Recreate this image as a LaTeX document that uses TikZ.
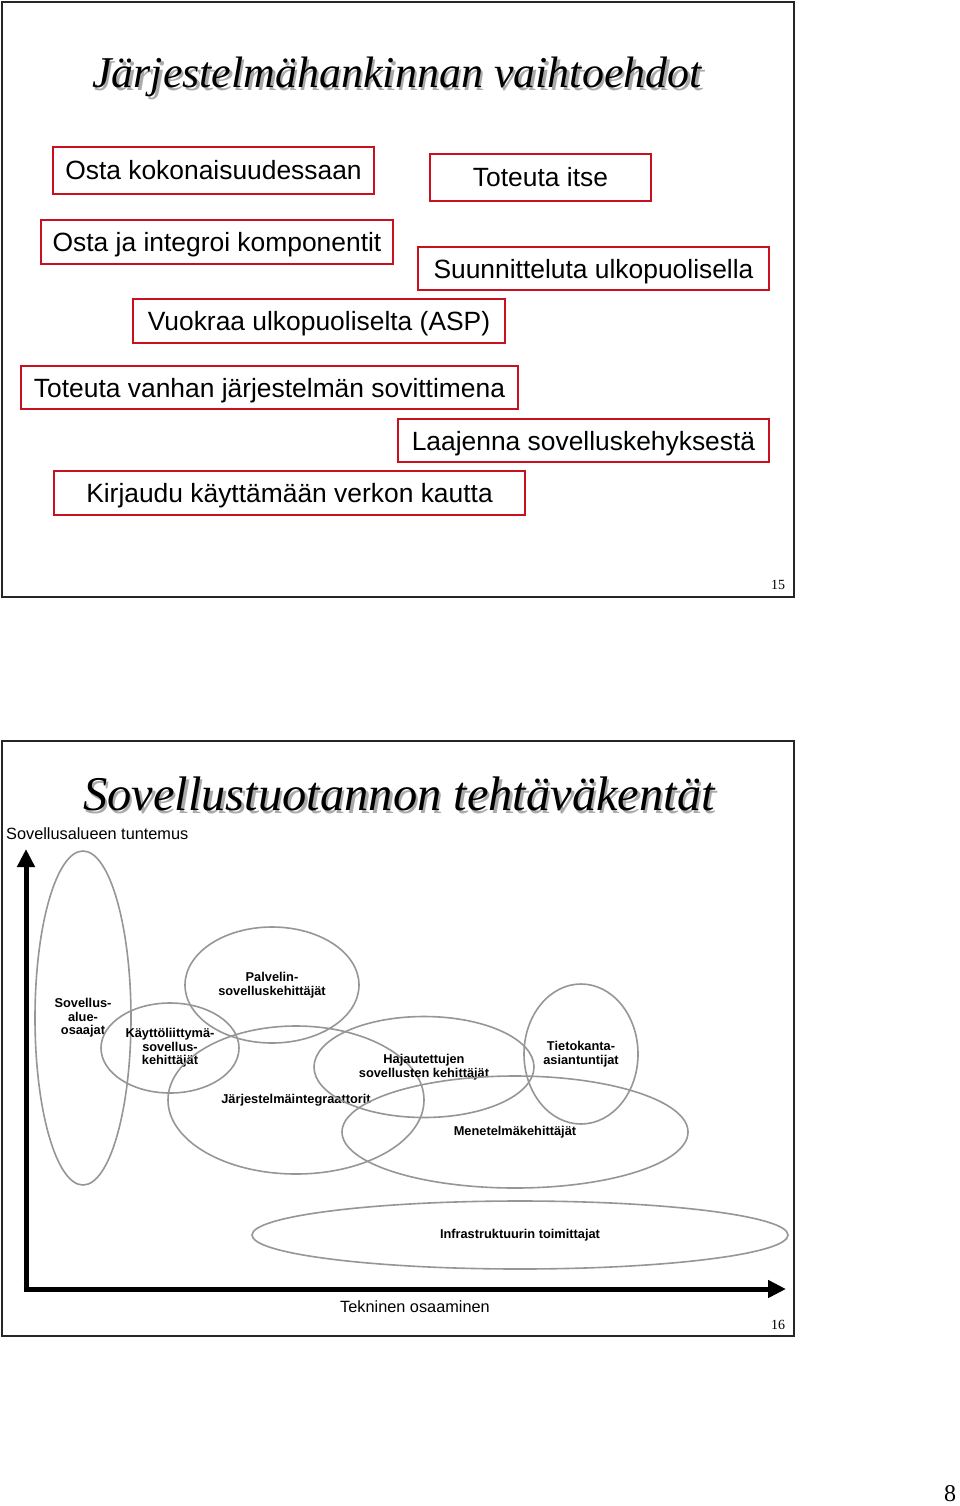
\documentclass[tikz,border=0pt]{standalone}
\usepackage{fontspec}
\setmainfont{Liberation Serif}
\setsansfont{Liberation Sans}
\usetikzlibrary{arrows.meta,shapes.geometric}
\definecolor{boxred}{RGB}{200,16,30}
\definecolor{ellgray}{RGB}{150,150,150}
\definecolor{shadowgray}{RGB}{170,170,170}
\tikzset{
  frame/.style={draw=black!85,line width=1.8pt},
  titletext/.style={font=\fontsize{44}{48}\selectfont\itshape},
  titleshadow/.style={titletext,text=shadowgray},
  optbox/.style={draw=boxred,line width=2.4pt,inner sep=0pt,text height=19pt,text depth=0pt,
    font=\sffamily\fontsize{26.4}{28}\selectfont},
  ell/.style={draw=ellgray,line width=1.6pt,ellipse,inner sep=0pt,align=center,
    font=\sffamily\bfseries\fontsize{12.8}{13.6}\selectfont},
  pagenum/.style={font=\fontsize{14}{16}\selectfont},
  axislbl/.style={font=\sffamily\fontsize{16.3}{18}\selectfont},
  axis/.style={line width=5pt,-{Triangle[length=18pt,width=17pt]}}
}
\begin{document}
\begin{tikzpicture}[x=1pt,y=-1pt]
\useasboundingbox[fill=white] (0,0) rectangle (960,1506);
% ---------- slide 15 ----------
\draw[frame] (2,2) rectangle (794,597);
\node[titleshadow] (t1s) at (399.5,79.5) {Järjestelmähankinnan vaihtoehdot};
\node[titletext] (t1) at (397,77) {Järjestelmähankinnan vaihtoehdot};
\node[optbox,minimum width=321pt,minimum height=47pt] (b1) at (213.5,170.5) {Osta kokonaisuudessaan};
\node[optbox,minimum width=221pt,minimum height=47pt] (b2) at (540.5,177.5) {Toteuta itse};
\node[optbox,minimum width=352pt,minimum height=44pt] (b3) at (217,242) {Osta ja integroi komponentit};
\node[optbox,minimum width=351pt,minimum height=43pt] (b4) at (593.5,268.5) {Suunnitteluta ulkopuolisella};
\node[optbox,minimum width=372pt,minimum height=44pt] (b5) at (319,321) {Vuokraa ulkopuoliselta (ASP)};
\node[optbox,minimum width=497pt,minimum height=43pt] (b6) at (269.5,387.5) {Toteuta vanhan järjestelmän sovittimena};
\node[optbox,minimum width=371pt,minimum height=43pt] (b7) at (583.5,440.5) {Laajenna sovelluskehyksestä};
\node[optbox,minimum width=471pt,minimum height=44pt] (b8) at (289.5,493) {Kirjaudu käyttämään verkon kautta};
\node[pagenum] (p15) at (778,585) {15};
% ---------- slide 16 ----------
\draw[frame] (2,741) rectangle (794,1336);
\node[titleshadow,font=\fontsize{48.5}{52}\selectfont\itshape] (t2s) at (401.5,796.5) {Sovellustuotannon tehtäväkentät};
\node[titletext,font=\fontsize{48.5}{52}\selectfont\itshape] (t2) at (399,794) {Sovellustuotannon tehtäväkentät};
\node[axislbl,anchor=west,inner sep=0pt] (ylab) at (6,834) {Sovellusalueen tuntemus};
\coordinate (o) at (26,1289);
\coordinate (ytop) at (26,849);
\coordinate (xend) at (786,1289);
\draw[axis] (o) -- (ytop);
\draw[axis] ([xshift=-2.5pt]o) -- (xend);
\node[axislbl] (xlab) at (415,1307) {Tekninen osaaminen};
\node[pagenum] (p16) at (778,1325) {16};
% ellipses
\node[ell,minimum width=96pt,minimum height=334pt] (e1) at (83,1018) {Sovellus-\\alue-\\osaajat};
\node[ell,minimum width=174pt,minimum height=116pt] (e2) at (272,985) {Palvelin-\\sovelluskehittäjät};
\node[ell,minimum width=138pt,minimum height=90pt] (e3) at (170,1048) {Käyttöliittymä-\\sovellus-\\kehittäjät};
\node[ell,minimum width=256pt,minimum height=148pt] (e4) at (296,1100) {Järjestelmäintegraattorit};
\node[ell,minimum width=220pt,minimum height=101pt] (e5) at (424,1067) {Hajautettujen\\sovellusten kehittäjät};
\node[ell,minimum width=114pt,minimum height=140pt] (e6) at (581,1054) {Tietokanta-\\asiantuntijat};
\node[ell,minimum width=346pt,minimum height=112pt] (e7) at (515,1132) {Menetelmäkehittäjät};
\node[ell,minimum width=536pt,minimum height=68pt] (e8) at (520,1235) {Infrastruktuurin toimittajat};
% ---------- page ----------
\node[font=\fontsize{24}{26}\selectfont] (p8) at (950,1494) {8};
\end{tikzpicture}
\end{document}
